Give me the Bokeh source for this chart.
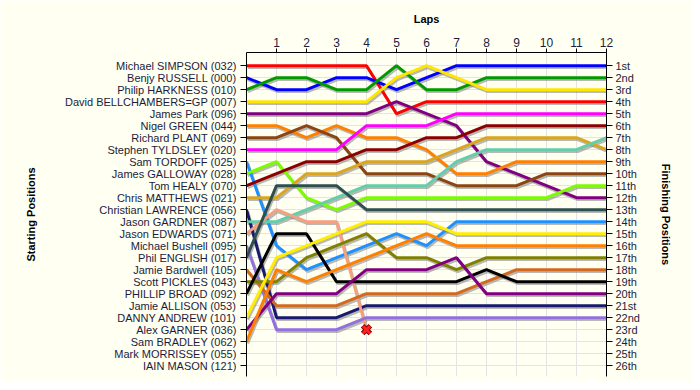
from bokeh.plotting import figure
from bokeh.models import Range1d, LinearAxis, FixedTicker
from bokeh.embed import file_html
from bokeh.resources import INLINE

lap_ticks = [1, 2, 3, 4, 5, 6, 7, 8, 9, 10, 11, 12]
grid_laps = [0, 1, 2, 3, 4, 5, 6, 7, 8, 9, 10, 11, 12]
positions = list(range(1, 27))

starting_grid = [
    "Michael SIMPSON (032)", "Benjy RUSSELL (000)", "Philip HARKNESS (010)",
    "David BELLCHAMBERS=GP (007)", "James Park (096)", "Nigel GREEN (044)",
    "Richard PLANT (069)", "Stephen TYLDSLEY (020)", "Sam TORDOFF (025)",
    "James GALLOWAY (028)", "Tom HEALY (070)", "Chris MATTHEWS (021)",
    "Christian LAWRENCE (056)", "Jason GARDNER (087)", "Jason EDWARDS (071)",
    "Michael Bushell (095)", "Phil ENGLISH (017)", "Jamie Bardwell (105)",
    "Scott PICKLES (043)", "PHILLIP BROAD (092)", "Jamie ALLISON (053)",
    "DANNY ANDREW (101)", "Alex GARNER (036)", "Sam BRADLEY (062)",
    "Mark MORRISSEY (055)", "IAIN MASON (121)",
]
finishing_labels = [
    "1st", "2nd", "3rd", "4th", "5th", "6th", "7th", "8th", "9th", "10th",
    "11th", "12th", "13th", "14th", "15th", "16th", "17th", "18th", "19th",
    "20th", "21st", "22nd", "23rd", "24th", "25th", "26th",
]

# position at the end of each lap (lap 0 = grid)
simpson      = [1, 1, 1, 1, 1, 5, 4, 4, 4, 4, 4, 4, 4]
russell      = [2, 3, 3, 2, 2, 3, 2, 1, 1, 1, 1, 1, 1]
harkness     = [3, 2, 2, 3, 3, 1, 3, 3, 2, 2, 2, 2, 2]
bellchambers = [4, 4, 4, 4, 4, 2, 1, 2, 3, 3, 3, 3, 3]
park         = [5, 5, 5, 5, 5, 4, 5, 6, 9, 10, 11, 12, 12]
green_n      = [6, 6, 7, 6, 7, 7, 8, 10, 10, 9, 9, 9, 9]
plant        = [7, 7, 6, 7, 10, 10, 10, 11, 11, 11, 10, 10, 10]
tyldsley     = [8, 8, 8, 8, 6, 6, 6, 5, 5, 5, 5, 5, 5]
tordoff      = [9, 16, 18, 17, 16, 15, 16, 14, 14, 14, 14, 14, 14]
galloway     = [10, 9, 12, 13, 12, 12, 12, 12, 12, 12, 12, 11, 11]
healy        = [11, 10, 9, 9, 8, 8, 7, 7, 6, 6, 6, 6, 6]
matthews     = [12, 12, 10, 10, 9, 9, 9, 8, 7, 7, 7, 7, 8]
lawrence     = [13, 22, 22, 22, 21, 21, 21, 21, 21, 21, 21, 21, 21]
gardner      = [14, 14, 13, 12, 11, 11, 11, 9, 8, 8, 8, 8, 7]
edwards      = [15, 13, 14, 14, 23]
bushell      = [16, 23, 23, 23, 22, 22, 22, 22, 22, 22, 22, 22, 22]
english      = [17, 11, 11, 11, 13, 13, 13, 13, 13, 13, 13, 13, 13]
bardwell     = [18, 21, 21, 21, 20, 20, 20, 20, 19, 18, 18, 18, 18]
pickles      = [19, 19, 17, 16, 15, 17, 17, 18, 17, 17, 17, 17, 17]
broad        = [20, 15, 15, 19, 19, 19, 19, 19, 18, 19, 19, 19, 19]
andrew       = [22, 17, 16, 15, 14, 14, 14, 15, 15, 15, 15, 15, 15]
garner       = [23, 20, 20, 20, 18, 18, 18, 17, 20, 20, 20, 20, 20]
bradley      = [24, 18, 19, 18, 17, 16, 15, 16, 16, 16, 16, 16, 16]

retired_lap = [4]
retired_pos = [23]

series = [
    (simpson, "#FF0000"), (russell, "#0000FF"), (harkness, "#009900"),
    (bellchambers, "#FFE600"), (park, "#800080"), (green_n, "#FF8000"),
    (plant, "#8B4513"), (tyldsley, "#FF00FF"), (tordoff, "#1E90FF"),
    (galloway, "#7CFC00"), (healy, "#8B0000"), (matthews, "#DAA520"),
    (lawrence, "#191970"), (gardner, "#66CDAA"), (edwards, "#F4A081"),
    (bushell, "#9370DB"), (english, "#2F4F4F"), (bardwell, "#D2691E"),
    (pickles, "#808000"), (broad, "#000000"), (andrew, "#FFEE00"),
    (garner, "#800080"), (bradley, "#FF7F00"),
]

BG = "#FFFFF2"
TXT = "#1c1c3c"

p = figure(width=691, height=381, output_backend="svg", toolbar_location=None,
           x_range=Range1d(0, 12), y_range=Range1d(26.9, -0.1),
           x_axis_location="above", y_axis_location="left",
           min_border_left=246, min_border_right=85, min_border_top=52,
           min_border_bottom=5)
p.background_fill_color = BG
p.border_fill_color = BG
p.outline_line_color = None

# top axis
xa = p.xaxis[0]
xa.ticker = FixedTicker(ticks=lap_ticks)
xa.axis_label = "Laps"
xa.axis_label_text_font = "Liberation Sans"
xa.axis_label_text_font_style = "bold"
xa.axis_label_text_font_size = "11px"
xa.axis_label_text_color = "black"
xa.axis_label_standoff = 10
xa.major_label_text_font = "Liberation Sans"
xa.major_label_text_font_size = "12px"
xa.major_label_text_color = TXT
xa.major_tick_out = 4
xa.major_tick_in = 0
xa.minor_tick_out = 0
xa.minor_tick_in = 0
xa.major_label_standoff = 2
xa.axis_line_color = "black"

# left axis
ya = p.yaxis[0]
ya.ticker = FixedTicker(ticks=positions)
ya.major_label_overrides = {i + 1: s for i, s in enumerate(starting_grid)}
ya.axis_label = "Starting Positions"
ya.axis_label_text_font = "Liberation Sans"
ya.axis_label_text_font_style = "bold"
ya.axis_label_text_font_size = "11px"
ya.axis_label_text_color = "black"
ya.axis_label_standoff = 25
ya.major_label_text_font = "Liberation Sans"
ya.major_label_text_font_size = "11px"
ya.major_label_text_color = TXT
ya.major_tick_out = 6
ya.major_tick_in = 0
ya.minor_tick_out = 0
ya.minor_tick_in = 0
ya.major_label_standoff = 4

# right axis
ra = LinearAxis(ticker=FixedTicker(ticks=positions))
ra.major_label_overrides = {i + 1: s for i, s in enumerate(finishing_labels)}
ra.axis_label = "Finishing Positions"
ra.axis_label_text_font = "Liberation Sans"
ra.axis_label_text_font_style = "bold"
ra.axis_label_text_font_size = "11px"
ra.axis_label_text_color = "black"
ra.axis_label_standoff = 17
ra.major_label_text_font = "Liberation Sans"
ra.major_label_text_font_size = "11px"
ra.major_label_text_color = TXT
ra.major_tick_out = 6
ra.major_tick_in = 0
ra.minor_tick_out = 0
ra.minor_tick_in = 0
ra.major_label_standoff = 3
p.add_layout(ra, "right")

p.xgrid.ticker = FixedTicker(ticks=grid_laps)
p.ygrid.ticker = FixedTicker(ticks=positions)
p.xgrid.grid_line_color = "#E4E4E4"
p.ygrid.grid_line_color = "#E4E4E4"

for pos, col in series:
    xs = grid_laps[:len(pos)]
    p.line([x + 0.04 for x in xs], [y + 0.15 for y in pos],
           line_color="#808080", line_alpha=0.55, line_width=3)
for pos, col in series:
    xs = grid_laps[:len(pos)]
    p.line(xs, pos, line_color=col, line_width=3)

p.scatter(retired_lap, retired_pos, marker="x", size=11, line_color="#800000",
          line_width=5)
p.scatter(retired_lap, retired_pos, marker="x", size=10, line_color="#FF2020",
          line_width=3)

open("out.html", "w").write(file_html(p, INLINE))
